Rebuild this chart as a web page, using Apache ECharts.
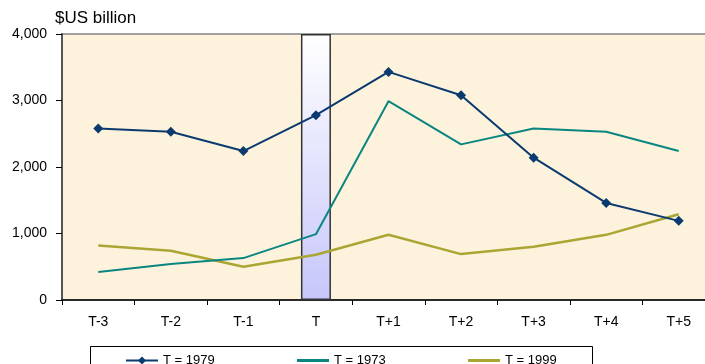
<!DOCTYPE html>
<html>
<head>
<meta charset="utf-8">
<script src="https://cdn.jsdelivr.net/npm/echarts@6/dist/echarts.min.js"></script>
<style>html,body{margin:0;padding:0;background:#fff}#c{width:705px;height:364px}</style>
</head>
<body>
<div id="c"></div>
<script>
var categories = ['T-3','T-2','T-1','T','T+1','T+2','T+3','T+4','T+5'];
var s1979 = [2580, 2530, 2240, 2780, 3430, 3080, 2140, 1460, 1190];
var s1973 = [420, 540, 630, 990, 2990, 2340, 2580, 2530, 2240];
var s1999 = [820, 740, 500, 680, 980, 690, 800, 980, 1290];
var eventBar = [null, null, null, 4000, null, null, null, null, null];
var yTicks = [0, 1000, 2000, 3000, 4000];

var chart = echarts.init(document.getElementById('c'), null, {renderer: 'canvas'});
var font = 'Liberation Sans, Arial, sans-serif';
var legText = {fontSize: 13, color: '#000', fontFamily: font};
chart.setOption({
  animation: false,
  textStyle: {fontFamily: font},
  grid: {left: 62, top: 34, height: 266, width: 653, show: true, containLabel: false, outerBoundsMode: 'none',
         backgroundColor: '#fdf3dd', borderColor: '#a0a0a0', borderWidth: 2},
  graphic: [
    {type: 'text', left: 55, top: 10, style: {text: '$US billion', font: '17px ' + font, fill: '#000'}},
    {type: 'rect', shape: {x: 90.5, y: 346.5, width: 502, height: 30}, style: {fill: '#fff', stroke: '#000', lineWidth: 1}, z: -1}
  ],
  legend: [
    {data: ['T = 1979'], left: 120, top: 349, itemWidth: 32, itemHeight: 10, itemGap: 3, textStyle: legText},
    {data: [{name: 'T = 1973', icon: 'rect'}], left: 292, top: 349, itemWidth: 32, itemHeight: 3, textStyle: legText},
    {data: [{name: 'T = 1999', icon: 'rect'}], left: 463, top: 349, itemWidth: 32, itemHeight: 3, textStyle: legText}
  ],
  xAxis: {
    type: 'category', data: categories, boundaryGap: true,
    axisLine: {lineStyle: {color: '#000', width: 1.5}},
    axisTick: {show: true, length: 5, lineStyle: {color: '#000'}},
    axisLabel: {color: '#000', fontSize: 14, margin: 15, fontFamily: font}
  },
  yAxis: {
    type: 'value', min: 0, max: 4000, interval: 1000,
    axisLine: {show: true, lineStyle: {color: '#555', width: 2}},
    axisTick: {show: true, length: 6, lineStyle: {color: '#000'}},
    axisLabel: {color: '#000', fontSize: 14, margin: 15, fontFamily: font,
      formatter: function (v) { return yTicks.indexOf(v) >= 0 ? v.toLocaleString('en-US') : ''; }},
    splitLine: {show: false}
  },
  series: [
    {name: 'event', type: 'bar', data: eventBar, barWidth: 30, silent: true, z: 1,
     itemStyle: {borderColor: '#333', borderWidth: 1.5,
       color: new echarts.graphic.LinearGradient(0, 0, 0, 1, [{offset: 0, color: '#ffffff'}, {offset: 1, color: '#c6c6fb'}])}},
    {name: 'T = 1979', type: 'line', data: s1979, symbol: 'diamond', symbolSize: 10,
     lineStyle: {color: '#0b3a6f', width: 2}, itemStyle: {color: '#0b3a6f'}, z: 5},
    {name: 'T = 1973', type: 'line', data: s1973, symbol: 'none', showSymbol: false,
     lineStyle: {color: '#0a8680', width: 2}, itemStyle: {color: '#0a8680'}, z: 4},
    {name: 'T = 1999', type: 'line', data: s1999, symbol: 'none', showSymbol: false,
     lineStyle: {color: '#aba634', width: 2.5}, itemStyle: {color: '#aba634'}, z: 3}
  ]
});
</script>
</body>
</html>
